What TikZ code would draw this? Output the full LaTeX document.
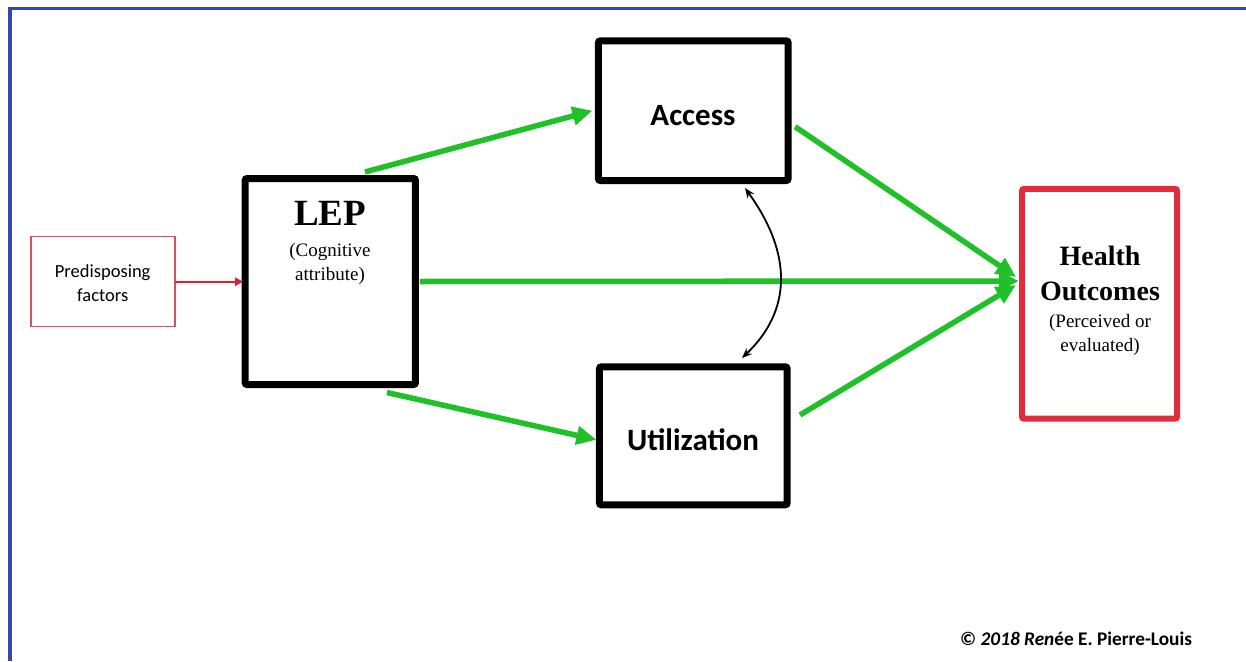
\documentclass[tikz,border=0pt]{standalone}
\usepackage{fontspec}
\setmainfont{Liberation Serif}
\newfontfamily\calib{Carlito}
\usetikzlibrary{arrows.meta}
\definecolor{frameblue}{RGB}{52,72,178}
\definecolor{arrowgreen}{RGB}{32,192,40}
\definecolor{outred}{RGB}{226,44,60}
\definecolor{softred}{RGB}{214,80,96}
\definecolor{linkred}{RGB}{226,30,48}
\tikzset{
  heavybox/.style={draw=black, line width=7pt, rounded corners=2pt, fill=white, outer sep=0pt, inner sep=0pt},
  greenarrow/.style={draw=arrowgreen, line width=5.5pt, -{Triangle[length=20pt,width=18pt]}},
  serifbig/.style={font=\fontsize{37}{40}\selectfont\bfseries, inner sep=0pt, anchor=base},
  serifmid/.style={font=\fontsize{28}{32}\selectfont\bfseries, inner sep=0pt, anchor=base},
  serifsmall/.style={font=\fontsize{19}{22}\selectfont, inner sep=0pt, anchor=base},
  sansbold/.style={font=\calib\fontsize{31}{36}\selectfont\bfseries, inner sep=0pt, anchor=base},
  sanssmall/.style={font=\calib\fontsize{18.5}{22}\selectfont, inner sep=0pt, anchor=base},
}
\begin{document}
\begin{tikzpicture}[x=1pt, y=-1pt]
\useasboundingbox (0,0) rectangle (1246,661);
\fill[white] (0,0) rectangle (1246,661);

% page frame (top and left edges)
\draw[frameblue, line width=3.5pt] (10,661) -- (10,8.5) -- (1246,8.5);

% boxes
\node[draw=softred, line width=1.5pt, minimum width=144pt, minimum height=90pt, outer sep=0pt, inner sep=0pt] (pre) at (102.8,281.7) {};
\node[heavybox, minimum width=170.3pt, minimum height=206pt] (lep) at (330.3,281.5) {};
\node[heavybox, minimum width=189.7pt, minimum height=139.7pt] (acc) at (693.3,110.7) {};
\node[heavybox, minimum width=187.7pt, minimum height=138pt] (uti) at (693.3,435.8) {};
\node[draw=outred, line width=6pt, rounded corners=2pt, minimum width=155pt, minimum height=229.7pt, outer sep=0pt, inner sep=0pt] (hlt) at (1099.5,303.8) {};

% texts
\node[sanssmall] (pre1) at (102.7,277.3) {Predisposing};
\node[sanssmall] (pre2) at (102.7,301.7) {factors};

\node[serifbig] (lep1) at (330,225) {LEP};
\node[serifsmall] (lep2) at (330,256.7) {(Cognitive};
\node[serifsmall] (lep3) at (330,280) {attribute)};

\node[sansbold] (acc1) at (693,125) {Access};
\node[sansbold] (uti1) at (693,450) {Utilization};

\node[serifmid] (hlt1) at (1100,265) {Health};
\node[serifmid] (hlt2) at (1100,300.7) {Outcomes};
\node[serifsmall] (hlt3) at (1100,327.3) {(Perceived or};
\node[serifsmall] (hlt4) at (1100,351.7) {evaluated)};

\node[font=\calib\fontsize{19.3}{22}\selectfont\bfseries, inner sep=0pt, anchor=base west] (copy) at (960,645)
  {\textcopyright\ \textit{2018 Ren}ée E. Pierre-Louis};

% connectors
\draw[linkred, line width=2pt, -{Triangle[length=8pt,width=8pt]}] (pre.east) -- ([xshift=-2pt]lep.west |- pre.east);

\draw[greenarrow] ([xshift=-50.5pt,yshift=6.5pt]lep.north east) -- ([xshift=-6pt]acc.west);
\draw[greenarrow] ([xshift=-28.5pt,yshift=-8pt]lep.south east) -- ([xshift=-3pt,yshift=-4pt]uti.west);
\draw[greenarrow] ([xshift=4.5pt]lep.east) -- ([xshift=-3pt,yshift=22.8pt]hlt.west);
\draw[greenarrow] ([xshift=7pt,yshift=-16pt]acc.east) -- ([xshift=-6pt,yshift=26.8pt]hlt.west);
\draw[greenarrow] ([xshift=12.8pt,yshift=20.8pt]uti.east) -- ([xshift=-6pt,yshift=18.8pt]hlt.west);

% two-way link between access and utilization
\draw[black, line width=1.8pt, {Stealth[length=10pt,width=8pt]}-{Stealth[length=10pt,width=8pt]}]
  ([xshift=51.7pt,yshift=-7.5pt]acc.south) .. controls +(47.7,66) and +(49.7,-47.3) .. ([xshift=48.7pt,yshift=8.8pt]uti.north);
\end{tikzpicture}
\end{document}
